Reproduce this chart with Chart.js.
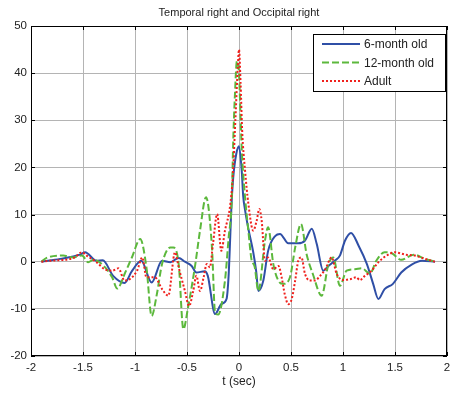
<!DOCTYPE html>
<html>
<head>
<meta charset="utf-8">
<script src="https://cdn.jsdelivr.net/npm/chart.js@4"></script>
<style>
  html, body { margin: 0; padding: 0; background: #fff; }
  #chart { display: block; }
</style>
</head>
<body>
<canvas id="chart" width="451" height="396"></canvas>
<script>
// Данные
const chartTitle = 'Temporal right and Occipital right';
const xLabel = 't (sec)';
const seriesNames = ['6-month old', '12-month old', 'Adult'];

const xTicks = [-2, -1.5, -1, -0.5, 0, 0.5, 1, 1.5, 2];
const yTicks = [-20, -10, 0, 10, 20, 30, 40, 50];

// 6-month old
const t6m = [-1.9, -1.72, -1.53, -1.48, -1.37, -1.31, -1.21, -1.10, -1.03, -0.94,
    -0.84, -0.74, -0.66, -0.58, -0.52, -0.455, -0.41, -0.33, -0.30, -0.23,
    -0.17, -0.12, -0.1, -0.07, -0.055, -0.025, 0, 0.026, 0.04, 0.058,
    0.09, 0.137, 0.165, 0.186, 0.234, 0.28, 0.35, 0.394, 0.474, 0.57,
    0.635, 0.70, 0.747, 0.81, 0.86, 0.92, 0.97, 1.02, 1.077, 1.15,
    1.23, 1.29, 1.34, 1.40, 1.48, 1.56, 1.66, 1.76, 1.885];
const v6m = [0, 0.6, 1.5, 2.0, 0.2, 0.3, -3, -4.5, -2, 0.2,
    -4.4, 0.2, -0.1, 0.8, 0, -0.9, -2.3, -2, -3, -11.1,
    -9, -7.9, -3, 13, 18, 23, 24.5, 19.4, 14, 11,
    7, 2, -2, -6.2, -4, 2.3, 5.5, 5.9, 3.9, 3.9,
    4.5, 7.0, 3.8, -1.9, -0.9, 0.2, 1.3, 4.5, 6.1, 3.4,
    -0.5, -4.7, -7.9, -5.8, -4.7, -2.3, -0.6, 0.2, 0];

// 12-month old
const t12m = [-1.9, -1.85, -1.69, -1.6, -1.51, -1.45, -1.40, -1.30, -1.22, -1.17,
    -1.10, -1.03, -0.95, -0.89, -0.84, -0.79, -0.74, -0.66, -0.63, -0.58,
    -0.535, -0.49, -0.42, -0.375, -0.317, -0.26, -0.23, -0.2, -0.135, -0.1,
    -0.07, -0.055, -0.04, -0.02, 0, 0.016, 0.026, 0.058, 0.09, 0.12,
    0.15, 0.186, 0.25, 0.28, 0.33, 0.378, 0.426, 0.49, 0.54, 0.596,
    0.65, 0.71, 0.795, 0.86, 0.907, 0.97, 1.035, 1.115, 1.18, 1.26,
    1.32, 1.40, 1.47, 1.56, 1.68, 1.79, 1.885];
const v12m = [0, 0.8, 1.3, 0.9, 1.3, -0.1, 0.4, -0.9, -3.3, -5.7,
    -2.6, 0.9, 4.8, -1.2, -11.5, -6.9, -0.5, 3.0, 3.0, -0.5,
    -14.3, -9.7, -0.5, 6.6, 13.7, 3, -10.8, -11.2, -4, 5,
    13, 26, 35, 42.5, 40, 30, 24, 13.7, 6.6, 0.5,
    -1, -6.2, 4.5, 7.3, -0.5, -4, -4.7, -3.3, 3, 8,
    1.6, -2.6, -7.2, -0.5, 0.9, -5.1, -1.9, -1.6, -1.4, -2.5,
    0.2, 2, 1.8, 0.4, 1.5, 0.6, 0];

// Adult
const tAdult = [-1.9, -1.82, -1.59, -1.51, -1.465, -1.37, -1.29, -1.22, -1.16, -1.10,
    -1.05, -0.98, -0.93, -0.89, -0.81, -0.74, -0.68, -0.615, -0.58, -0.52,
    -0.48, -0.44, -0.41, -0.375, -0.34, -0.31, -0.28, -0.25, -0.21, -0.17,
    -0.135, -0.087, -0.06, -0.035, -0.01, 0, 0.015, 0.03, 0.058, 0.09,
    0.137, 0.17, 0.195, 0.218, 0.25, 0.28, 0.33, 0.38, 0.41, 0.44,
    0.474, 0.507, 0.54, 0.57, 0.60, 0.635, 0.68, 0.73, 0.78, 0.83,
    0.89, 0.94, 1.0, 1.067, 1.13, 1.16, 1.21, 1.275, 1.34, 1.42,
    1.5, 1.6, 1.69, 1.79, 1.885];
const vAdult = [0, 0.2, 0.8, 2, 1.3, -0.1, -1.6, -1.9, -1.4, -4,
    -3.7, -1.9, 0.9, -3.3, -3.3, -5.8, -7.2, 2, -1.2, -6.2,
    -9.4, -6.2, -3, -6.2, -3.3, -0.5, -1.2, 3.8, 10.1, 2.3,
    6.6, 11.6, 18, 30, 42, 45, 38, 28, 19.4, 12.3,
    6.6, 8.7, 11.2, 8.7, 0.2, 0.9, -1.6, -0.9, -3.3, -6.9,
    -9, -7.9, -4, 0.2, 0.9, -2.6, -4, -4, -3, -1.6,
    0.9, -2.6, -3.9, -3.7, -3.3, -3.9, -3, -1.9, -0.1, 1.3,
    2, 1.5, 1.3, 0.6, 0];

function toPoints(ts, vs) {
    return ts.map(function(t, i) { return { x: t, y: vs[i] }; });
}

const FONT = '"Liberation Sans", Arial, sans-serif';

// Заголовок, подпись оси, рамка с засечками и легенда внутри графика
const decorPlugin = {
    id: 'decor',
    afterDraw: function(chart) {
        const ctx = chart.ctx;
        const a = chart.chartArea;
        const xs = chart.scales.x, ys = chart.scales.y;
        ctx.save();

        ctx.fillStyle = '#222';
        ctx.font = '11px ' + FONT;
        ctx.textAlign = 'center';
        ctx.textBaseline = 'middle';
        ctx.fillText(chartTitle, (a.left + a.right) / 2, 13);
        ctx.font = '12px ' + FONT;
        ctx.fillText(xLabel, (a.left + a.right) / 2, 382);

        // рамка
        ctx.strokeStyle = '#000';
        ctx.lineWidth = 1;
        ctx.strokeRect(Math.round(a.left) + 0.5, Math.round(a.top) + 0.5,
            Math.round(a.right - a.left) - 1, Math.round(a.bottom - a.top) - 1);

        // засечки внутрь
        ctx.beginPath();
        xTicks.forEach(function(t) {
            const px = Math.round(xs.getPixelForValue(t)) + 0.5;
            ctx.moveTo(px, a.bottom); ctx.lineTo(px, a.bottom - 4);
            ctx.moveTo(px, a.top); ctx.lineTo(px, a.top + 4);
        });
        yTicks.forEach(function(v) {
            const py = Math.round(ys.getPixelForValue(v)) + 0.5;
            ctx.moveTo(a.left, py); ctx.lineTo(a.left + 4, py);
            ctx.moveTo(a.right, py); ctx.lineTo(a.right - 4, py);
        });
        ctx.stroke();

        // легенда
        const bx = 313.5, by = 34.5, bw = 132, bh = 57;
        ctx.fillStyle = '#fff';
        ctx.fillRect(bx, by, bw, bh);
        ctx.strokeRect(bx, by, bw, bh);
        ctx.font = '12px ' + FONT;
        ctx.textAlign = 'left';
        chart.data.datasets.forEach(function(ds, i) {
            const y = 44 + i * 18.5;
            ctx.beginPath();
            ctx.strokeStyle = ds.borderColor;
            ctx.lineWidth = ds.borderWidth;
            ctx.setLineDash(ds.borderDash || []);
            ctx.moveTo(322, y); ctx.lineTo(360, y);
            ctx.stroke();
            ctx.setLineDash([]);
            ctx.fillStyle = '#222';
            ctx.fillText(ds.label, 364, y + 1);
        });
        ctx.restore();
    }
};

const seriesStyle = [
    { color: '#2f4fa6', dash: [] },
    { color: '#5cb83c', dash: [7, 3] },
    { color: '#f0201c', dash: [2, 2] }
];
const seriesData = [toPoints(t6m, v6m), toPoints(t12m, v12m), toPoints(tAdult, vAdult)];

new Chart(document.getElementById('chart'), {
    type: 'line',
    data: {
        datasets: seriesNames.map(function(name, i) {
            return {
                label: name,
                data: seriesData[i],
                borderColor: seriesStyle[i].color,
                borderWidth: 2,
                borderDash: seriesStyle[i].dash,
                pointRadius: 0,
                fill: false,
                cubicInterpolationMode: 'monotone',
                order: 3 - i
            };
        })
    },
    options: {
        responsive: false,
        animation: false,
        devicePixelRatio: 1,
        layout: { padding: { left: 0, right: 4, top: 26, bottom: 0 } },
        plugins: {
            legend: { display: false },
            tooltip: { enabled: false },
            title: { display: false }
        },
        scales: {
            x: {
                type: 'linear',
                min: -2,
                max: 2,
                afterBuildTicks: function(scale) {
                    scale.ticks = xTicks.map(function(v) { return { value: v }; });
                },
                ticks: {
                    autoSkip: false,
                    maxRotation: 0,
                    padding: 5,
                    color: '#222',
                    font: { family: FONT, size: 11.5 },
                    callback: function(value) { return String(value); }
                },
                grid: { color: '#b4b4b4', lineWidth: 1, drawTicks: false },
                border: { display: false },
                afterFit: function(scale) {
                    scale.height = 40;
                    scale.paddingLeft = 0;
                    scale.paddingRight = 0;
                }
            },
            y: {
                type: 'linear',
                min: -20,
                max: 50,
                afterBuildTicks: function(scale) {
                    scale.ticks = yTicks.map(function(v) { return { value: v }; });
                },
                ticks: {
                    autoSkip: false,
                    padding: 4,
                    color: '#222',
                    font: { family: FONT, size: 11.5 }
                },
                grid: { color: '#b4b4b4', lineWidth: 1, drawTicks: false },
                border: { display: false },
                afterFit: function(scale) {
                    scale.width = 31;
                    scale.paddingTop = 0;
                    scale.paddingBottom = 0;
                }
            }
        }
    },
    plugins: [decorPlugin]
});
</script>
</body>
</html>
